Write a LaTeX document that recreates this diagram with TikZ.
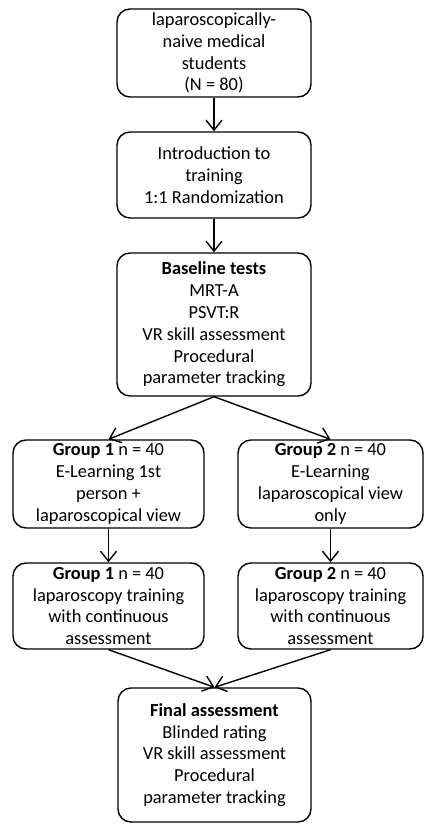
\documentclass[tikz,border=0pt]{standalone}
\usepackage{fontspec}
\setmainfont{Carlito}
\usetikzlibrary{arrows.meta}

\tikzset{
  flowbox/.style={draw,line width=1.4pt,rounded corners=13pt,align=center,
    inner sep=0pt,font=\fontsize{18.4}{21.8}\selectfont},
  flowarrow/.style={line width=1.4pt,-{Straight Barb[length=10pt,width=16pt,line width=1.4pt]}}
}

\begin{document}
\begin{tikzpicture}[x=1pt,y=-1pt]
  \useasboundingbox (0,0) rectangle (424,826);
  \node[flowbox,minimum width=194pt,minimum height=88pt] (students) at (214,53)
    {laparoscopically-\\naive medical\\students\\(N = 80)};
  \node[flowbox,minimum width=194pt,minimum height=86pt] (intro) at (214,175)
    {Introduction to\\training\\1:1 Randomization};
  \node[flowbox,minimum width=194pt,minimum height=143pt] (baseline) at (214,324.5)
    {\textbf{Baseline tests}\\MRT-A\\PSVT:R\\VR skill assessment\\Procedural\\parameter tracking};
  \node[flowbox,minimum width=191pt,minimum height=88pt] (elearnA) at (108.5,484)
    {\textbf{Group 1} n = 40\\E-Learning 1st\\person +\\laparoscopical view};
  \node[flowbox,minimum width=185pt,minimum height=88pt] (elearnB) at (330.5,484)
    {\textbf{Group 2} n = 40\\E-Learning\\laparoscopical view\\only};
  \node[flowbox,minimum width=191pt,minimum height=86pt] (trainA) at (108.5,606)
    {\textbf{Group 1} n = 40\\laparoscopy training\\with continuous\\assessment};
  \node[flowbox,minimum width=185pt,minimum height=86pt] (trainB) at (330.5,606)
    {\textbf{Group 2} n = 40\\laparoscopy training\\with continuous\\assessment};
  \node[flowbox,minimum width=193pt,minimum height=134pt] (final) at (214.5,755)
    {\textbf{Final assessment}\\Blinded rating\\VR skill assessment\\Procedural\\parameter tracking};

  \draw[flowarrow] (students) -- (intro);
  \draw[flowarrow] (intro) -- (baseline);
  \draw[flowarrow] (baseline.south) -- (elearnA.north);
  \draw[flowarrow] (baseline.south) -- (elearnB.north);
  \draw[flowarrow] (elearnA) -- (trainA);
  \draw[flowarrow] (elearnB) -- (trainB);
  \draw[flowarrow] (trainA.south) -- (final.north);
  \draw[flowarrow] (trainB.south) -- (final.north);
\end{tikzpicture}
\end{document}
